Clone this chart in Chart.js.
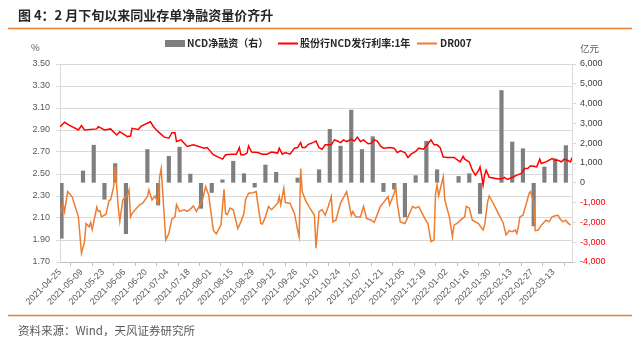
<!DOCTYPE html>
<html>
<head>
<meta charset="utf-8">
<script src="https://cdn.jsdelivr.net/npm/chart.js@4.4.0/dist/chart.umd.min.js"></script>
<style>
  html, body { margin: 0; padding: 0; background: #fff; }
  #wrap { width: 640px; height: 340px; }
</style>
</head>
<body>
<div id="wrap"><canvas id="c" width="640" height="340"></canvas></div>
<script>
// ---- data ----
const titleText = '图 4：2 月下旬以来同业存单净融资量价齐升';
const sourceText = '资料来源：Wind，天风证券研究所';

// 股份行NCD发行利率:1年 (%)
const rateDates = [
  '2021-04-25','2021-04-28','2021-05-01','2021-05-07','2021-05-09','2021-05-11','2021-05-19','2021-05-20','2021-05-24','2021-05-28',
  '2021-06-01','2021-06-03','2021-06-08','2021-06-10','2021-06-11','2021-06-15','2021-06-17','2021-06-23','2021-06-25','2021-06-28',
  '2021-07-02','2021-07-05','2021-07-07','2021-07-09','2021-07-10','2021-07-13','2021-07-15','2021-07-17','2021-07-21','2021-07-28',
  '2021-07-30','2021-08-03','2021-08-09','2021-08-11','2021-08-15','2021-08-18','2021-08-20','2021-08-21','2021-08-23','2021-08-25',
  '2021-08-26','2021-08-28','2021-09-01','2021-09-04','2021-09-07','2021-09-10','2021-09-14','2021-09-15','2021-09-17','2021-09-19',
  '2021-09-22','2021-09-25','2021-09-27','2021-09-29','2021-09-30','2021-10-02','2021-10-04','2021-10-07','2021-10-09','2021-10-11',
  '2021-10-13','2021-10-15','2021-10-19','2021-10-21','2021-10-23','2021-10-25','2021-10-27','2021-10-29','2021-11-01','2021-11-03',
  '2021-11-05','2021-11-07','2021-11-09','2021-11-12','2021-11-14','2021-11-16','2021-11-18','2021-11-20','2021-11-22','2021-11-26',
  '2021-11-29','2021-12-01','2021-12-03','2021-12-06','2021-12-08','2021-12-10','2021-12-13','2021-12-15','2021-12-18','2021-12-20',
  '2021-12-23','2021-12-25','2021-12-27','2021-12-29','2021-12-31','2022-01-03','2022-01-07','2022-01-11','2022-01-13','2022-01-14',
  '2022-01-17','2022-01-19','2022-01-21','2022-01-23','2022-01-24','2022-01-25','2022-01-26','2022-01-27','2022-01-28','2022-01-30',
  '2022-02-05','2022-02-08','2022-02-09','2022-02-11','2022-02-15','2022-02-17','2022-02-20','2022-02-22','2022-02-24','2022-02-26',
  '2022-03-02','2022-03-04','2022-03-05','2022-03-08','2022-03-12','2022-03-14','2022-03-16','2022-03-18','2022-03-20','2022-03-22',
  '2022-03-24','2022-03-25'
];
const rateValues = [
  2.93, 2.97, 2.945, 2.90, 2.94, 2.90, 2.91, 2.93, 2.90, 2.91,
  2.855, 2.885, 2.84, 2.845, 2.915, 2.905, 2.935, 2.975, 2.93, 2.885,
  2.835, 2.825, 2.875, 2.875, 2.795, 2.81, 2.78, 2.75, 2.765, 2.735,
  2.74, 2.675, 2.635, 2.675, 2.68, 2.68, 2.74, 2.675, 2.675, 2.69,
  2.755, 2.70, 2.695, 2.68, 2.68, 2.70, 2.69, 2.735, 2.68, 2.695,
  2.68, 2.735, 2.74, 2.785, 2.74, 2.74, 2.77, 2.785, 2.80, 2.74,
  2.725, 2.765, 2.765, 2.81, 2.80, 2.785, 2.81, 2.795, 2.815, 2.80,
  2.835, 2.795, 2.81, 2.775, 2.78, 2.81, 2.80, 2.755, 2.735, 2.74,
  2.735, 2.695, 2.71, 2.695, 2.65, 2.68, 2.705, 2.735, 2.725, 2.755,
  2.81, 2.765, 2.765, 2.74, 2.655, 2.65, 2.65, 2.61, 2.66, 2.635,
  2.61, 2.535, 2.49, 2.53, 2.565, 2.49, 2.40, 2.49, 2.535, 2.47,
  2.455, 2.46, 2.47, 2.45, 2.475, 2.49, 2.505, 2.55, 2.55, 2.575,
  2.565, 2.635, 2.595, 2.61, 2.64, 2.625, 2.625, 2.61, 2.635, 2.625,
  2.61, 2.65
];

// DR007 (%)
const dr007Dates = [
  '2021-04-25','2021-04-27','2021-04-28','2021-04-30','2021-05-03','2021-05-05','2021-05-07','2021-05-09','2021-05-11','2021-05-12',
  '2021-05-14','2021-05-15','2021-05-16','2021-05-19','2021-05-20','2021-05-21','2021-05-22','2021-05-25','2021-05-27','2021-05-28',
  '2021-05-30','2021-05-31','2021-06-02','2021-06-03','2021-06-05','2021-06-08','2021-06-09','2021-06-10','2021-06-11','2021-06-13',
  '2021-06-16','2021-06-18','2021-06-21','2021-06-22','2021-06-24','2021-06-26','2021-06-28','2021-06-29','2021-06-30','2021-07-03',
  '2021-07-05','2021-07-07','2021-07-09','2021-07-10','2021-07-12','2021-07-15','2021-07-17','2021-07-19','2021-07-21','2021-07-23',
  '2021-07-27','2021-07-29','2021-07-31','2021-08-03','2021-08-05','2021-08-08','2021-08-10','2021-08-11','2021-08-12','2021-08-14',
  '2021-08-16','2021-08-19','2021-08-21','2021-08-23','2021-08-24','2021-08-26','2021-08-29','2021-08-31','2021-09-01','2021-09-03',
  '2021-09-04','2021-09-06','2021-09-08','2021-09-10','2021-09-14','2021-09-15','2021-09-16','2021-09-18','2021-09-19','2021-09-22',
  '2021-09-25','2021-09-27','2021-09-28','2021-09-29','2021-09-30','2021-10-02','2021-10-05','2021-10-08','2021-10-09','2021-10-11',
  '2021-10-13','2021-10-15','2021-10-17','2021-10-19','2021-10-20','2021-10-22','2021-10-25','2021-10-29','2021-11-01','2021-11-02',
  '2021-11-04','2021-11-07','2021-11-09','2021-11-11','2021-11-14','2021-11-16','2021-11-20','2021-11-22','2021-11-25','2021-11-26',
  '2021-11-29','2021-11-30','2021-12-01','2021-12-03','2021-12-06','2021-12-08','2021-12-11','2021-12-13','2021-12-15','2021-12-19',
  '2021-12-21','2021-12-23','2021-12-25','2021-12-26','2021-12-27','2021-12-28','2021-12-31','2022-01-01','2022-01-04','2022-01-06',
  '2022-01-07','2022-01-09','2022-01-12','2022-01-14','2022-01-15','2022-01-17','2022-01-19','2022-01-23','2022-01-26','2022-01-27',
  '2022-01-29','2022-01-30','2022-02-01','2022-02-05','2022-02-08','2022-02-10','2022-02-12','2022-02-14','2022-02-16','2022-02-17',
  '2022-02-18','2022-02-19','2022-02-21','2022-02-23','2022-02-25','2022-02-26','2022-02-28','2022-03-01','2022-03-03','2022-03-05',
  '2022-03-08','2022-03-10','2022-03-12','2022-03-14','2022-03-16','2022-03-17','2022-03-19','2022-03-21','2022-03-22','2022-03-24'
];
const dr007Values = [
  2.14, 2.23, 2.16, 2.34, 2.29, 2.20, 2.11, 1.78, 1.885, 2.05,
  2.02, 2.06, 1.995, 2.20, 2.16, 2.165, 2.11, 2.135, 2.26, 2.265,
  2.385, 2.57, 2.20, 2.07, 2.265, 2.31, 2.355, 2.11, 2.14, 2.175,
  2.22, 2.235, 2.295, 2.355, 2.265, 2.30, 2.235, 2.475, 2.55, 1.90,
  1.96, 2.09, 2.11, 2.22, 2.16, 2.175, 2.16, 2.18, 2.21, 2.16,
  2.265, 2.385, 2.31, 1.99, 1.955, 2.035, 2.36, 2.14, 2.13, 2.19,
  2.175, 2.005, 2.065, 2.14, 2.265, 2.325, 2.33, 2.34, 2.235, 2.05,
  2.045, 2.11, 2.205, 2.175, 2.235, 2.295, 2.22, 2.37, 2.24, 2.235,
  2.14, 1.99, 1.93, 2.55, 2.34, 2.265, 2.19, 2.125, 1.825, 2.16,
  2.175, 2.125, 2.205, 2.295, 2.065, 2.08, 2.235, 2.34, 2.125, 2.16,
  2.11, 2.11, 2.205, 2.095, 2.08, 2.06, 2.205, 2.24, 2.295, 2.22,
  2.325, 2.385, 2.235, 2.065, 2.05, 2.11, 2.205, 2.19, 2.205, 2.095,
  2.05, 1.885, 1.90, 2.325, 2.40, 2.30, 2.475, 2.265, 2.11, 1.93,
  2.035, 2.05, 2.09, 2.11, 2.205, 2.19, 2.08, 2.05, 1.99, 2.035,
  2.25, 2.30, 2.25, 2.14, 2.06, 1.945, 1.985, 1.975, 1.99, 1.96,
  2.02, 2.11, 2.125, 2.22, 2.325, 2.34, 2.235, 1.985, 1.99, 2.035,
  2.08, 2.065, 2.11, 2.12, 2.125, 2.095, 2.065, 2.08, 2.06, 2.035
];

// NCD净融资，周度（亿元，右轴）
const ncdWeeks = [
  '2021-04-26','2021-05-10','2021-05-17','2021-05-24','2021-05-31','2021-06-07','2021-06-21','2021-06-28','2021-07-05','2021-07-12',
  '2021-07-19','2021-07-26','2021-08-02','2021-08-09','2021-08-16','2021-08-23','2021-08-30','2021-09-06','2021-09-13','2021-09-27',
  '2021-10-11','2021-10-18','2021-10-25','2021-11-01','2021-11-08','2021-11-15','2021-11-22','2021-11-29','2021-12-06','2021-12-13',
  '2021-12-20','2021-12-27','2022-01-10','2022-01-17','2022-01-24','2022-02-07','2022-02-14','2022-02-21','2022-02-28','2022-03-07',
  '2022-03-14','2022-03-21'
];
const ncdValues = [
  -2800, 600, 1900, -830, 970, -2570, 1680, -1120, 1340, 1800,
  440, -1290, -490, 150, 1090, 460, -220, 900, 530, 240,
  660, 2700, 1850, 3670, 1680, 2330, -440, -320, -1720, 360,
  2100, 660, 320, 460, -1550, 4660, 2060, 1720, -2180, 800,
  1210, 1880
];

// axis ticks
const xTickLabels = [
  '2021-04-25','2021-05-09','2021-05-23','2021-06-06','2021-06-20','2021-07-04','2021-07-18','2021-08-01',
  '2021-08-15','2021-08-29','2021-09-12','2021-09-26','2021-10-10','2021-10-24','2021-11-07','2021-11-21',
  '2021-12-05','2021-12-19','2022-01-02','2022-01-16','2022-01-30','2022-02-13','2022-02-27','2022-03-13'
];
const xEndDate = '2022-03-25';
const leftTicks = [1.70, 1.90, 2.10, 2.30, 2.50, 2.70, 2.90, 3.10, 3.30, 3.50];
const rightTicks = [-4000, -3000, -2000, -1000, 0, 1000, 2000, 3000, 4000, 5000, 6000];

// ---- helpers ----
const DAY0 = Date.UTC(2021, 3, 25);
function dayOf(s) {
  const [y, m, d] = s.split('-').map(Number);
  return Math.round((Date.UTC(y, m - 1, d) - DAY0) / 86400000);
}
const toPoints = (dates, vals) => dates.map((d, i) => ({ x: dayOf(d), y: vals[i] }));

const COL_BAR = '#7F7F7F';
const COL_RATE = '#FF0000';
const COL_DR = '#ED7D31';
const COL_ACCENT = '#ED7D31';
const TICK_FONT = { family: '"Liberation Sans", Arial, sans-serif', size: 9 };
const CJK = '"Noto Sans CJK SC", "Noto Sans", sans-serif';

// title, rules, legend, units and source line around the plot
const decor = {
  id: 'decor',
  beforeDraw(chart) {
    const c = chart.ctx;
    c.save();
    c.fillStyle = '#fff';
    c.fillRect(0, 0, chart.width, chart.height);
    c.restore();
  },
  afterDraw(chart) {
    const c = chart.ctx;
    const ds = chart.data.datasets;
    c.save();
    c.textAlign = 'left';
    c.textBaseline = 'middle';

    c.fillStyle = '#262626';
    c.font = 'bold 13px ' + CJK;
    c.fillText(titleText, 18, 15);

    c.strokeStyle = COL_ACCENT;
    c.lineWidth = 1.5;
    c.beginPath();
    c.moveTo(8, 28.5); c.lineTo(632, 28.5);
    c.moveTo(8, 315.5); c.lineTo(632, 315.5);
    c.stroke();

    c.fillStyle = '#595959';
    c.font = '11.5px ' + CJK;
    c.fillText(sourceText, 18, 331);

    // units
    c.font = '9.5px ' + CJK;
    c.fillStyle = '#595959';
    c.fillText('%', 31, 47);
    c.fillText('亿元', 580, 48);

    // legend
    const ly = 43.5;
    c.font = 'bold 10px ' + CJK;
    c.fillStyle = ds[0].backgroundColor;
    c.fillRect(165, 40, 20, 7);
    c.fillStyle = '#262626';
    c.fillText(ds[0].label, 187, ly);

    c.strokeStyle = ds[1].borderColor;
    c.lineWidth = 2;
    c.beginPath(); c.moveTo(278, ly); c.lineTo(298, ly); c.stroke();
    c.fillText(ds[1].label, 300, ly);

    c.strokeStyle = ds[2].borderColor;
    c.beginPath(); c.moveTo(417, ly); c.lineTo(437, ly); c.stroke();
    c.fillText(ds[2].label, 440, ly);
    c.restore();
  }
};

new Chart(document.getElementById('c'), {
  type: 'bar',
  data: {
    datasets: [
      {
        type: 'bar',
        label: 'NCD净融资（右）',
        data: toPoints(ncdWeeks, ncdValues),
        backgroundColor: COL_BAR,
        borderWidth: 0,
        barThickness: 3.5,
        yAxisID: 'y1',
        order: 3
      },
      {
        type: 'line',
        label: '股份行NCD发行利率:1年',
        data: toPoints(rateDates, rateValues),
        borderColor: COL_RATE,
        backgroundColor: COL_RATE,
        borderWidth: 1.5,
        pointRadius: 0,
        tension: 0,
        yAxisID: 'y',
        order: 1
      },
      {
        type: 'line',
        label: 'DR007',
        data: toPoints(dr007Dates, dr007Values),
        borderColor: COL_DR,
        backgroundColor: COL_DR,
        borderWidth: 1.5,
        pointRadius: 0,
        tension: 0,
        yAxisID: 'y',
        order: 2
      }
    ]
  },
  options: {
    responsive: false,
    animation: false,
    devicePixelRatio: 1,
    layout: { padding: { top: 64, left: 0, right: 0, bottom: 0 } },
    plugins: { legend: { display: false }, tooltip: { enabled: false }, title: { display: false } },
    scales: {
      x: {
        type: 'linear',
        offset: false,
        min: 0,
        max: dayOf(xEndDate),
        afterBuildTicks: s => { s.ticks = xTickLabels.map(d => ({ value: dayOf(d) })); },
        afterFit: s => { s.height = 78; },
        ticks: {
          autoSkip: false,
          minRotation: 45,
          maxRotation: 45,
          padding: 1,
          font: TICK_FONT,
          color: '#595959',
          callback: (v, i) => xTickLabels[i]
        },
        grid: { drawOnChartArea: false, drawTicks: true, tickLength: 4, color: '#BFBFBF' },
        border: { display: true, color: '#BFBFBF' }
      },
      y: {
        position: 'left',
        min: leftTicks[0],
        max: leftTicks[leftTicks.length - 1],
        afterBuildTicks: s => { s.ticks = leftTicks.map(v => ({ value: v })); },
        afterFit: s => { s.width = 60; },
        ticks: { font: TICK_FONT, color: '#595959', padding: 6, callback: v => Number(v).toFixed(2) },
        grid: { color: '#D9D9D9', tickLength: 4, tickColor: '#D9D9D9' },
        border: { display: true, color: '#D9D9D9' }
      },
      y1: {
        position: 'right',
        min: rightTicks[0],
        max: rightTicks[rightTicks.length - 1],
        afterBuildTicks: s => { s.ticks = rightTicks.map(v => ({ value: v })); },
        afterFit: s => { s.width = 68; },
        ticks: {
          font: TICK_FONT,
          padding: 4,
          color: ctx => (ctx.tick && ctx.tick.value < 0) ? '#FF0000' : '#404040',
          callback: v => Number(v).toLocaleString('en-US')
        },
        grid: { drawOnChartArea: false, tickLength: 4, color: '#D9D9D9' },
        border: { display: true, color: '#D9D9D9' }
      }
    }
  },
  plugins: [decor]
});
</script>
</body>
</html>
